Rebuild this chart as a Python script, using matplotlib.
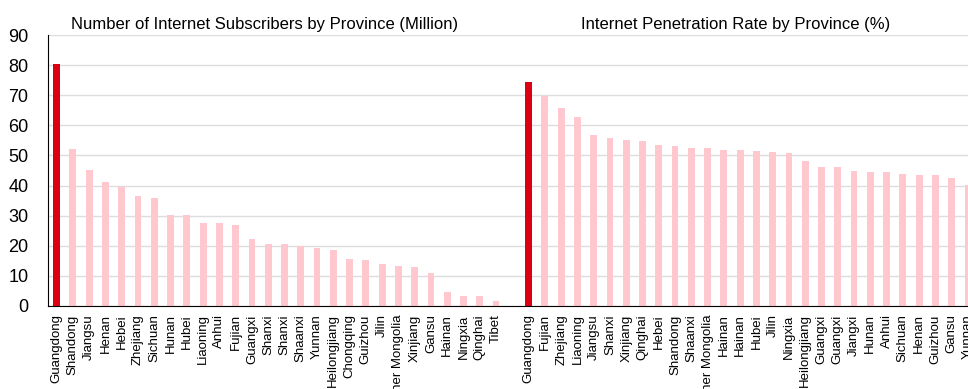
import matplotlib.pyplot as plt
import numpy as np

plt.rcParams['font.family'] = ['Liberation Sans', 'DejaVu Sans']

# 左側: 省別インターネット加入者数 (百万)
subs_provinces = ["Guangdong", "Shandong", "Jiangsu", "Henan", "Hebei", "Zhejiang", "Sichuan",
                  "Hunan", "Hubei", "Liaoning", "Anhui", "Fujian", "Guangxi", "Shanxi", "Shanxi",
                  "Shaanxi", "Yunnan", "Heilongjiang", "Chongqing", "Guizhou", "Jilin",
                  "Inner Mongolia", "Xinjiang", "Gansu", "Hainan", "Ningxia", "Qinghai", "Tibet"]
subs_values = [80.5, 52.3, 45.3, 41.2, 39.6, 36.4, 35.9, 30.2, 30.2, 27.6, 27.4, 26.9, 22.3,
               20.5, 20.5, 19.9, 19.2, 18.5, 15.7, 15.4, 14.1, 13.2, 13.1, 11.1, 4.8, 3.4, 3.3, 1.7]

# 右側: 省別インターネット普及率 (%)
rate_provinces = ["Guangdong", "Fujian", "Zhejiang", "Liaoning", "Jiangsu", "Shanxi", "Xinjiang",
                  "Qinghai", "Hebei", "Shandong", "Shaanxi", "Inner Mongolia", "Hainan", "Hainan",
                  "Hubei", "Jilin", "Ningxia", "Heilongjiang", "Guangxi", "Guangxi", "Jiangxi",
                  "Hunan", "Anhui", "Sichuan", "Henan", "Guizhou", "Gansu", "Yunnan"]
rate_values = [74.3, 69.9, 65.9, 62.9, 56.8, 55.8, 55.1, 54.7, 53.5, 53.2, 52.6, 52.4, 51.8, 51.8,
               51.6, 51.2, 50.8, 48.3, 46.3, 46.3, 44.7, 44.5, 44.4, 43.9, 43.6, 43.5, 42.5, 40.1]

RED = "#dc0014"
PINK = "#ffc7ce"

fig = plt.figure(figsize=(9.68, 3.89), dpi=100)
ax = fig.add_axes([48 / 968, 1 - 306 / 389, 1 - 48 / 968, (306 - 35) / 389])

gap = 1
x_subs = np.arange(len(subs_values))
x_rate = np.arange(len(rate_values)) + len(subs_values) + gap

cols_subs = [RED] + [PINK] * (len(subs_values) - 1)
cols_rate = [RED] + [PINK] * (len(rate_values) - 1)
ax.bar(x_subs, subs_values, width=0.42, color=cols_subs, zorder=3)
ax.bar(x_rate, rate_values, width=0.42, color=cols_rate, zorder=3)

ax.set_ylim(0, 90)
ax.set_yticks(range(0, 91, 10))
ax.set_xlim(-0.53, 55.85)
ax.set_xticks(list(x_subs) + list(x_rate))
ax.set_xticklabels(subs_provinces + rate_provinces, rotation=90, fontsize=9.5, va="top")
ax.tick_params(axis="x", length=0, pad=6)
ax.tick_params(axis="y", length=0, pad=14, labelsize=13)

ax.grid(axis="y", color="#dddddd", linewidth=1, zorder=0)
for s in ["top", "right"]:
    ax.spines[s].set_visible(False)
ax.spines["left"].set_color("black")
ax.spines["bottom"].set_color("black")
ax.spines["left"].set_zorder(4)
ax.spines["bottom"].set_zorder(4)

# タイトル (各グループの上)
ax.text(12.8, 91, "Number of Internet Subscribers by Province (Million)",
        ha="center", va="bottom", fontsize=12)
ax.text(41.7, 91, "Internet Penetration Rate by Province (%)",
        ha="center", va="bottom", fontsize=12)

fig.savefig("out.png", dpi=100)
